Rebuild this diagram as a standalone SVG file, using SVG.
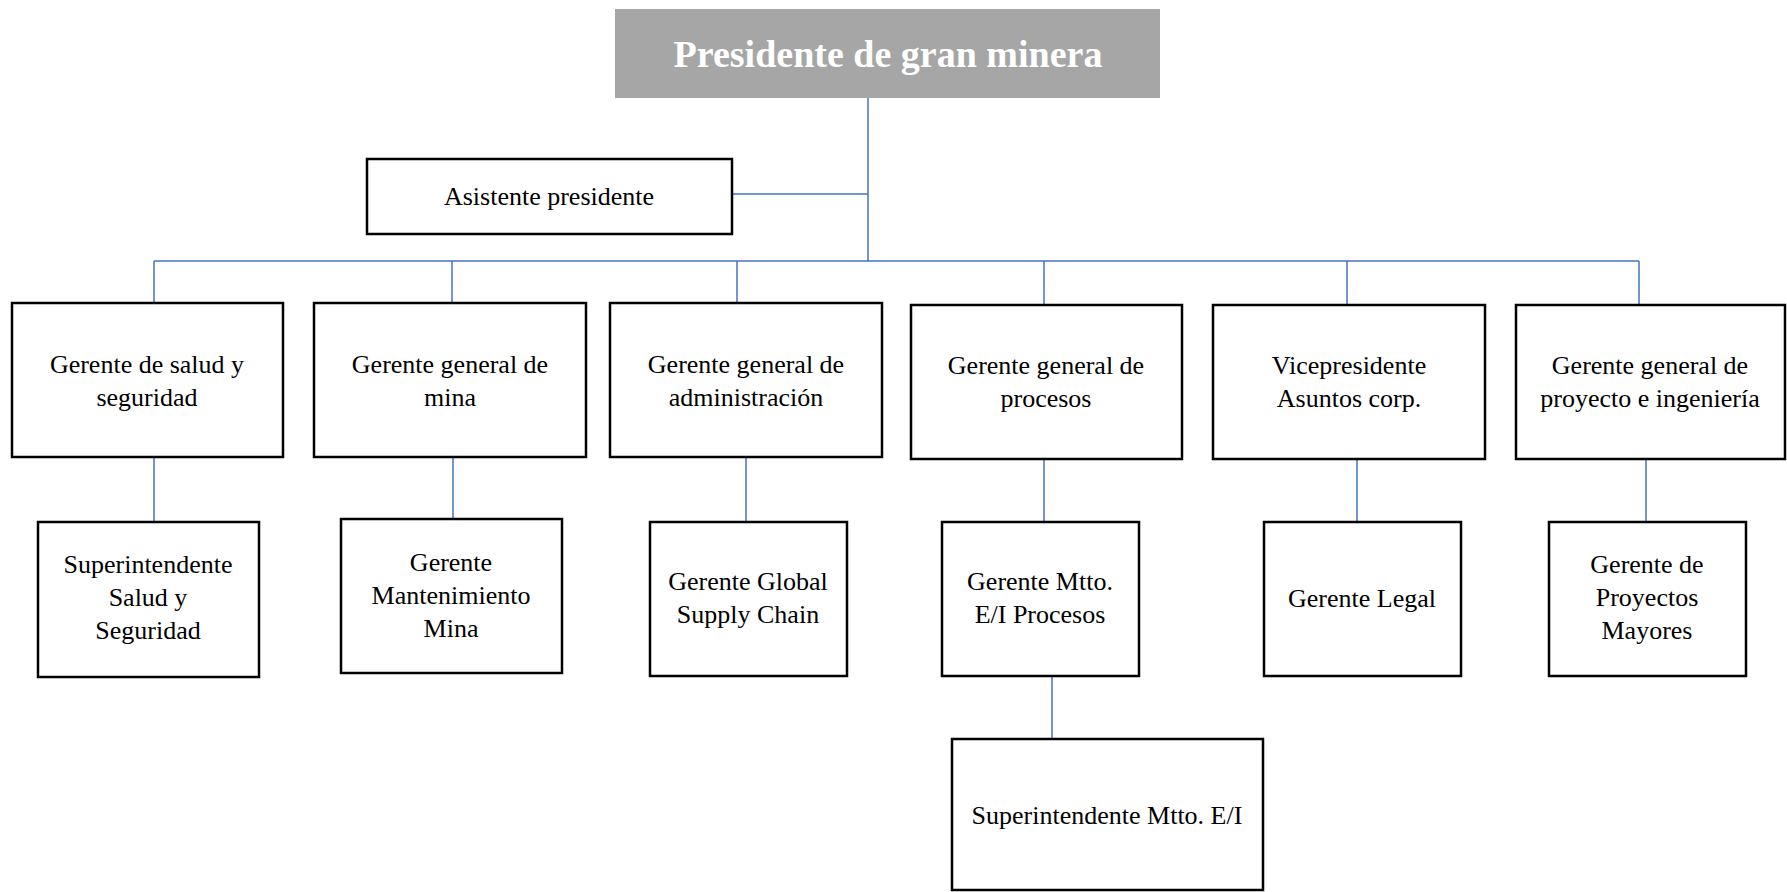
<svg xmlns="http://www.w3.org/2000/svg" width="1787" height="892" viewBox="0 0 1787 892">
<style>
.box{fill:#ffffff;stroke:#000000;stroke-width:2.5}
.t{font-family:"Liberation Serif","Times New Roman",serif;font-size:26px;fill:#000000;text-anchor:middle}
.title{font-family:"Liberation Serif","Times New Roman",serif;font-size:38px;font-weight:bold;fill:#ffffff;text-anchor:middle}
.c{stroke:#4472c4;stroke-width:1.5;fill:none}
</style>
<rect width="1787" height="892" fill="#ffffff"/>
<g id="connectors">
<line class="c" x1="868" y1="98" x2="868" y2="261"/>
<line class="c" x1="732" y1="194" x2="868" y2="194"/>
<line class="c" x1="154" y1="261" x2="1639" y2="261"/>
<line class="c" x1="154" y1="261" x2="154" y2="303"/>
<line class="c" x1="452" y1="261" x2="452" y2="303"/>
<line class="c" x1="737" y1="261" x2="737" y2="303"/>
<line class="c" x1="1044" y1="261" x2="1044" y2="305"/>
<line class="c" x1="1347" y1="261" x2="1347" y2="305"/>
<line class="c" x1="1639" y1="261" x2="1639" y2="305"/>
<line class="c" x1="154" y1="457" x2="154" y2="522"/>
<line class="c" x1="453" y1="457" x2="453" y2="519"/>
<line class="c" x1="746" y1="457" x2="746" y2="522"/>
<line class="c" x1="1044" y1="459" x2="1044" y2="522"/>
<line class="c" x1="1357" y1="459" x2="1357" y2="522"/>
<line class="c" x1="1646" y1="459" x2="1646" y2="522"/>
<line class="c" x1="1052" y1="676" x2="1052" y2="739"/>
</g>
<g id="presidente">
<rect x="615" y="9" width="545" height="89" fill="#a6a6a6"/>
<text class="title" x="888" y="67">Presidente de gran minera</text>
</g>
<g id="asistente">
<rect class="box" x="367" y="159" width="365" height="75"/>
<text class="t" x="549" y="205">Asistente presidente</text>
</g>
<g id="gerente-salud">
<rect class="box" x="12" y="303" width="271" height="154"/>
<text class="t" x="147" y="373">Gerente de salud y</text>
<text class="t" x="147" y="406">seguridad</text>
</g>
<g id="gerente-mina">
<rect class="box" x="314" y="303" width="272" height="154"/>
<text class="t" x="450" y="373">Gerente general de</text>
<text class="t" x="450" y="406">mina</text>
</g>
<g id="gerente-admin">
<rect class="box" x="610" y="303" width="272" height="154"/>
<text class="t" x="746" y="373">Gerente general de</text>
<text class="t" x="746" y="406">administración</text>
</g>
<g id="gerente-procesos">
<rect class="box" x="911" y="305" width="271" height="154"/>
<text class="t" x="1046" y="374">Gerente general de</text>
<text class="t" x="1046" y="407">procesos</text>
</g>
<g id="vicepresidente">
<rect class="box" x="1213" y="305" width="272" height="154"/>
<text class="t" x="1349" y="374">Vicepresidente</text>
<text class="t" x="1349" y="407">Asuntos corp.</text>
</g>
<g id="gerente-proyecto">
<rect class="box" x="1516" y="305" width="269" height="154"/>
<text class="t" x="1650" y="374">Gerente general de</text>
<text class="t" x="1650" y="407">proyecto e ingeniería</text>
</g>
<g id="super-salud">
<rect class="box" x="38" y="522" width="221" height="155"/>
<text class="t" x="148" y="573">Superintendente</text>
<text class="t" x="148" y="606">Salud y</text>
<text class="t" x="148" y="639">Seguridad</text>
</g>
<g id="gerente-mant-mina">
<rect class="box" x="341" y="519" width="221" height="154"/>
<text class="t" x="451" y="571">Gerente</text>
<text class="t" x="451" y="604">Mantenimiento</text>
<text class="t" x="451" y="637">Mina</text>
</g>
<g id="gerente-supply">
<rect class="box" x="650" y="522" width="197" height="154"/>
<text class="t" x="748" y="590">Gerente Global</text>
<text class="t" x="748" y="623">Supply Chain</text>
</g>
<g id="gerente-mtto">
<rect class="box" x="942" y="522" width="197" height="154"/>
<text class="t" x="1040" y="590">Gerente Mtto.</text>
<text class="t" x="1040" y="623">E/I Procesos</text>
</g>
<g id="gerente-legal">
<rect class="box" x="1264" y="522" width="197" height="154"/>
<text class="t" x="1362" y="607">Gerente Legal</text>
</g>
<g id="gerente-proyectos-mayores">
<rect class="box" x="1549" y="522" width="197" height="154"/>
<text class="t" x="1647" y="573">Gerente de</text>
<text class="t" x="1647" y="606">Proyectos</text>
<text class="t" x="1647" y="639">Mayores</text>
</g>
<g id="super-mtto">
<rect class="box" x="952" y="739" width="311" height="151"/>
<text class="t" x="1107" y="824">Superintendente Mtto. E/I</text>
</g>
</svg>
